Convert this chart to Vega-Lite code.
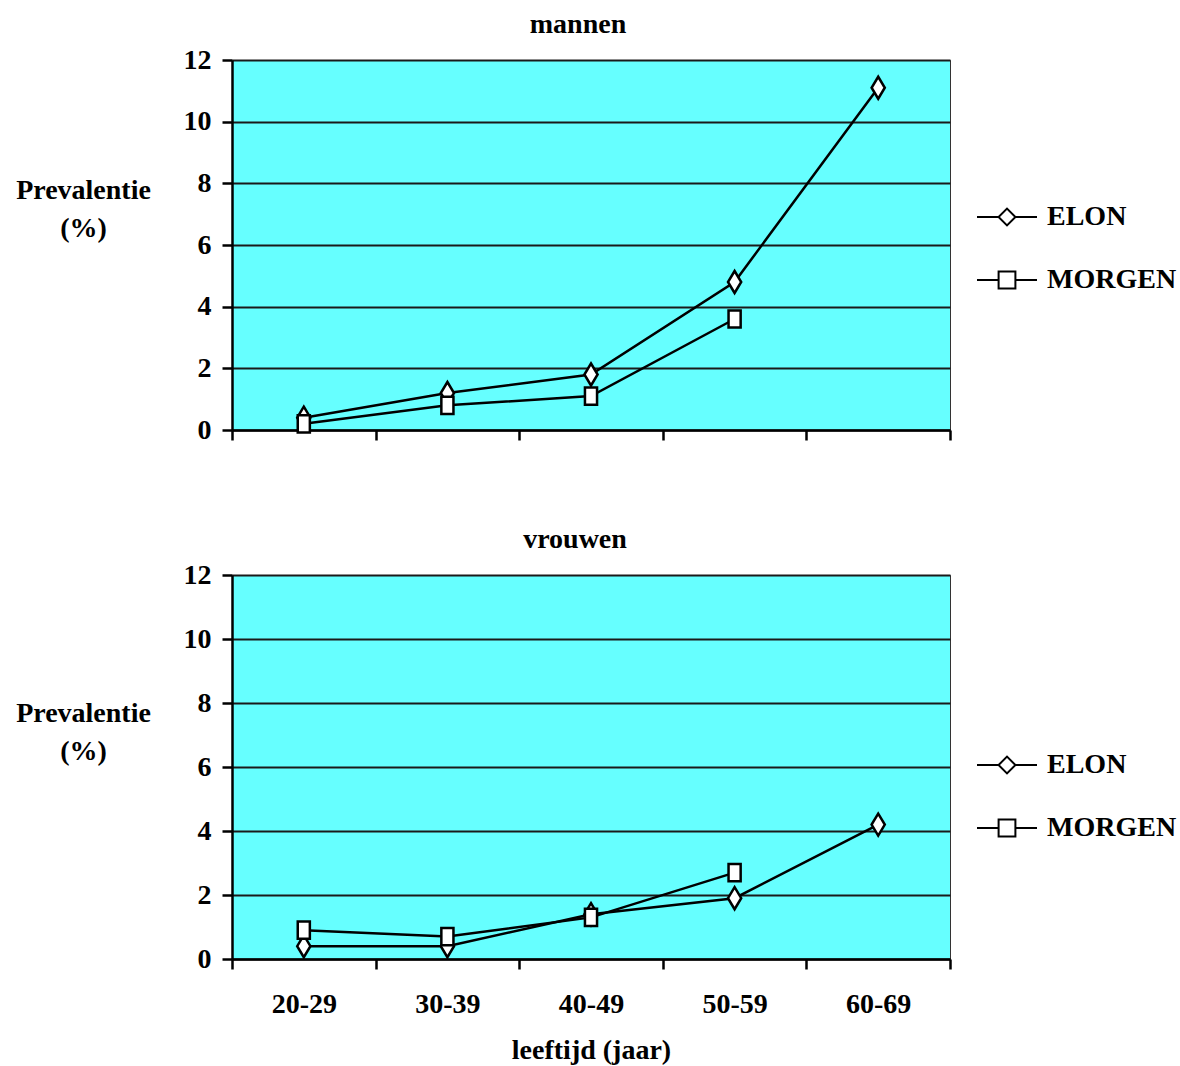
{
  "$schema": "https://vega.github.io/schema/vega-lite/v6.json",
  "padding": {"left": 15, "top": 10, "right": 0, "bottom": 0},
  "config": {
    "font": "Liberation Serif",
    "view": {"fill": "#66FFFF", "stroke": "#333333", "strokeWidth": 1},
    "axis": {
      "labelFont": "Liberation Serif", "labelFontWeight": "bold", "labelFontSize": 28, "labelColor": "black",
      "titleFont": "Liberation Serif", "titleFontWeight": "bold", "titleFontSize": 28, "titleColor": "black",
      "domainColor": "black", "domainWidth": 2.5, "tickColor": "black", "tickWidth": 2.5, "tickSize": 10,
      "gridColor": "#1a1a1a", "gridWidth": 2, "gridOpacity": 1
    },
    "title": {"font": "Liberation Serif", "fontWeight": "bold", "fontSize": 28, "color": "black"},
    "legend": {
      "labelFont": "Liberation Serif", "labelFontWeight": "bold", "labelFontSize": 28, "labelColor": "black",
      "labelOffset": 9, "labelLimit": 300, "rowPadding": 18, "padding": 0
    }
  },
  "datasets": {
    "mannen": [
      {"leeftijd": "20-29", "reeks": "ELON", "prevalentie": 0.4},
      {"leeftijd": "30-39", "reeks": "ELON", "prevalentie": 1.2},
      {"leeftijd": "40-49", "reeks": "ELON", "prevalentie": 1.8},
      {"leeftijd": "50-59", "reeks": "ELON", "prevalentie": 4.8},
      {"leeftijd": "60-69", "reeks": "ELON", "prevalentie": 11.1},
      {"leeftijd": "20-29", "reeks": "MORGEN", "prevalentie": 0.2},
      {"leeftijd": "30-39", "reeks": "MORGEN", "prevalentie": 0.8},
      {"leeftijd": "40-49", "reeks": "MORGEN", "prevalentie": 1.1},
      {"leeftijd": "50-59", "reeks": "MORGEN", "prevalentie": 3.6}
    ],
    "vrouwen": [
      {"leeftijd": "20-29", "reeks": "ELON", "prevalentie": 0.4},
      {"leeftijd": "30-39", "reeks": "ELON", "prevalentie": 0.4},
      {"leeftijd": "40-49", "reeks": "ELON", "prevalentie": 1.4},
      {"leeftijd": "50-59", "reeks": "ELON", "prevalentie": 1.9},
      {"leeftijd": "60-69", "reeks": "ELON", "prevalentie": 4.2},
      {"leeftijd": "20-29", "reeks": "MORGEN", "prevalentie": 0.9},
      {"leeftijd": "30-39", "reeks": "MORGEN", "prevalentie": 0.7},
      {"leeftijd": "40-49", "reeks": "MORGEN", "prevalentie": 1.3},
      {"leeftijd": "50-59", "reeks": "MORGEN", "prevalentie": 2.7}
    ]
  },
  "spacing": 80,
  "resolve": {"scale": {"shape": "independent"}, "legend": {"shape": "independent"}},
  "vconcat": [
    {
      "title": {"text": "mannen", "dx": -13, "offset": -15, "baseline": "alphabetic"},
      "width": 718,
      "height": 370,
      "data": {"name": "mannen"},
      "encoding": {
        "x": {
          "field": "leeftijd", "type": "ordinal",
          "sort": ["20-29", "30-39", "40-49", "50-59", "60-69"],
          "scale": {"type": "band", "paddingInner": 0, "paddingOuter": 0, "domain": ["20-29", "30-39", "40-49", "50-59", "60-69"]},
          "bandPosition": 0.5,
          "axis": {"tickBand": "extent", "labels": false, "title": null, "grid": false}
        },
        "y": {
          "field": "prevalentie", "type": "quantitative",
          "scale": {"domain": [0, 12], "nice": false},
          "axis": {
            "values": [0, 2, 4, 6, 8, 10, 12], "grid": true, "labelPadding": 11,
            "title": ["Prevalentie", "(%)"], "titleAngle": 0, "titleAlign": "center",
            "titleBaseline": "alphabetic", "titleX": -149, "titleY": 138, "titleLineHeight": 38
          }
        }
      },
      "layer": [
        {"mark": {"type": "line", "color": "black", "strokeWidth": 2.5}, "encoding": {"detail": {"field": "reeks", "type": "nominal"}}},
        {
          "mark": {"type": "point", "filled": true, "fill": "white", "stroke": "black", "strokeWidth": 2.5, "size": 484, "opacity": 1},
          "encoding": {"shape": {"field": "reeks", "type": "nominal", "scale": {"domain": ["ELON", "MORGEN"], "range": ["M0,-1 L0.6,0 L0,1 L-0.6,0 Z", "M-0.55,-0.78 H0.55 V0.78 H-0.55 Z"]}, "legend": null}}
        },
        {
          "mark": {"type": "point", "filled": false, "color": "black", "strokeWidth": 2, "size": 3600, "opacity": 1, "clip": true},
          "encoding": {
            "y": {"datum": -100, "type": "quantitative"},
            "shape": {"field": "reeks", "type": "nominal", "scale": {"domain": ["ELON", "MORGEN"], "range": ["M-1,0 L-0.28,0 L0,-0.28 L0.28,0 L1,0 L0.28,0 L0,0.28 L-0.28,0 Z", "M-1,0 L-0.28,0 L-0.28,-0.28 L0.28,-0.28 L0.28,0 L1,0 L0.28,0 L0.28,0.28 L-0.28,0.28 L-0.28,0 Z"]},
            "legend": {"orient": "none", "legendX": 744, "legendY": 126, "title": null, "symbolSize": 3600, "symbolStrokeWidth": 2}}
          }
        }
      ],
      "resolve": {"scale": {"shape": "independent"}}
    },
    {
      "title": {"text": "vrouwen", "dx": -16, "offset": -15, "baseline": "alphabetic"},
      "width": 718,
      "height": 384,
      "data": {"name": "vrouwen"},
      "encoding": {
        "x": {
          "field": "leeftijd", "type": "ordinal",
          "sort": ["20-29", "30-39", "40-49", "50-59", "60-69"],
          "scale": {"type": "band", "paddingInner": 0, "paddingOuter": 0, "domain": ["20-29", "30-39", "40-49", "50-59", "60-69"]},
          "bandPosition": 0.5,
          "axis": {
            "tickBand": "extent", "grid": false, "labelAngle": 0, "labelBaseline": "alphabetic", "labelPadding": 43,
            "title": "leeftijd (jaar)", "titleBaseline": "alphabetic", "titleY": 99
          }
        },
        "y": {
          "field": "prevalentie", "type": "quantitative",
          "scale": {"domain": [0, 12], "nice": false},
          "axis": {
            "values": [0, 2, 4, 6, 8, 10, 12], "grid": true, "labelPadding": 11,
            "title": ["Prevalentie", "(%)"], "titleAngle": 0, "titleAlign": "center",
            "titleBaseline": "alphabetic", "titleX": -149, "titleY": 146, "titleLineHeight": 38
          }
        }
      },
      "layer": [
        {"mark": {"type": "line", "color": "black", "strokeWidth": 2.5}, "encoding": {"detail": {"field": "reeks", "type": "nominal"}}},
        {
          "mark": {"type": "point", "filled": true, "fill": "white", "stroke": "black", "strokeWidth": 2.5, "size": 484, "opacity": 1},
          "encoding": {"shape": {"field": "reeks", "type": "nominal", "scale": {"domain": ["ELON", "MORGEN"], "range": ["M0,-1 L0.6,0 L0,1 L-0.6,0 Z", "M-0.55,-0.78 H0.55 V0.78 H-0.55 Z"]}, "legend": null}}
        },
        {
          "mark": {"type": "point", "filled": false, "color": "black", "strokeWidth": 2, "size": 3600, "opacity": 1, "clip": true},
          "encoding": {
            "y": {"datum": -100, "type": "quantitative"},
            "shape": {"field": "reeks", "type": "nominal", "scale": {"domain": ["ELON", "MORGEN"], "range": ["M-1,0 L-0.28,0 L0,-0.28 L0.28,0 L1,0 L0.28,0 L0,0.28 L-0.28,0 Z", "M-1,0 L-0.28,0 L-0.28,-0.28 L0.28,-0.28 L0.28,0 L1,0 L0.28,0 L0.28,0.28 L-0.28,0.28 L-0.28,0 Z"]},
            "legend": {"orient": "none", "legendX": 744, "legendY": 159, "title": null, "symbolSize": 3600, "symbolStrokeWidth": 2}}
          }
        }
      ],
      "resolve": {"scale": {"shape": "independent"}}
    }
  ]
}
